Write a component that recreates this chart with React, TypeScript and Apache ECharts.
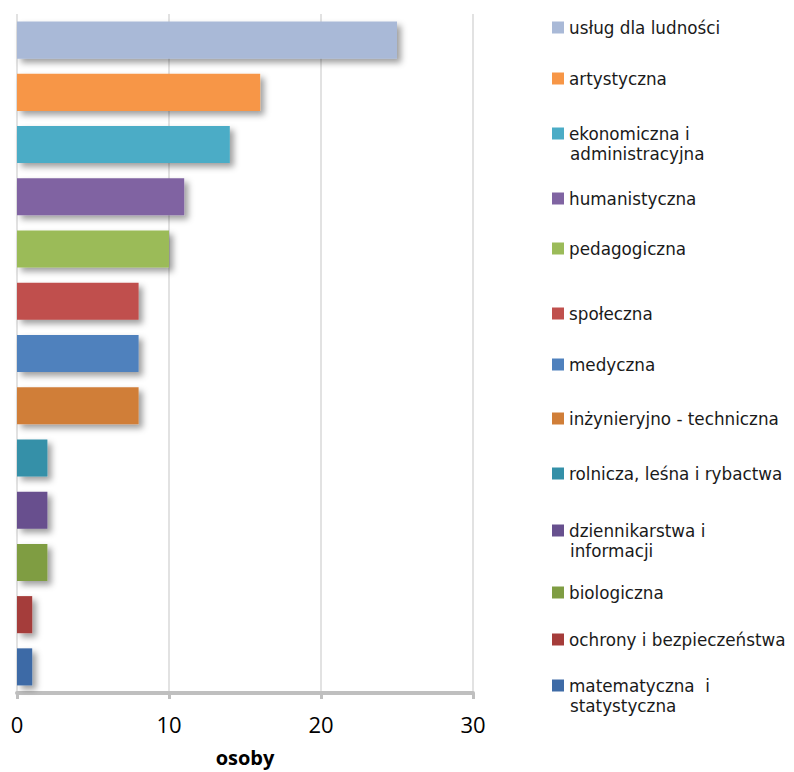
import React, { useEffect, useRef } from "react";
import * as echarts from "echarts";

const categories = [
  "usług dla ludności",
  "artystyczna",
  "ekonomiczna i\nadministracyjna",
  "humanistyczna",
  "pedagogiczna",
  "społeczna",
  "medyczna",
  "inżynieryjno - techniczna",
  "rolnicza, leśna i rybactwa",
  "dziennikarstwa i\ninformacji",
  "biologiczna",
  "ochrony i bezpieczeństwa",
  "matematyczna  i\nstatystyczna",
];
const values = [25, 16, 14, 11, 10, 8, 8, 8, 2, 2, 2, 1, 1];
const colors = [
  "#A9B9D7", "#F79646", "#4BACC6", "#8064A2", "#9BBB59", "#C0504D", "#4F81BD",
  "#D07E38", "#3490A8", "#67508E", "#7F9D43", "#A53C3A", "#3E6BA6",
];
const xTicks = [0, 10, 20, 30];
const xAxisTitle = "osoby";

// legend icon centre positions (layout)
const legendY = [25, 76, 131, 196, 246, 311, 362, 416, 471, 528, 590, 637, 683];

export default function App() {
  const ref = useRef<HTMLDivElement>(null);
  useEffect(() => {
    if (!ref.current) return;
    const chart = echarts.init(ref.current, null, { renderer: "svg" });
    const series = categories.map((name, i) => ({
      type: "bar",
      name,
      stack: "all",
      barCategoryGap: "29%",
      data: categories.map((_, j) => (j === i ? values[i] : null)),
      itemStyle: {
        color: colors[i],
        shadowBlur: 6,
        shadowOffsetX: 4,
        shadowOffsetY: 4,
        shadowColor: "rgba(0,0,0,0.38)",
      },
    }));
    const legends = categories.map((name, i) => ({
      data: [name],
      orient: "vertical",
      left: 552,
      top: legendY[i] - 6,
      padding: 0,
      itemWidth: 12,
      itemHeight: 12,
      itemGap: 0,
      icon: "rect",
      selectedMode: false,
      formatter: (n: string) => n.split("\n")[0],
      textStyle: {
        fontFamily: "DejaVu Sans",
        fontSize: 16.8,
        color: "#1a1a1a",
        lineHeight: 12,
      },
    }));
    const graphics: any[] = [];
    categories.forEach((name, i) => {
      const parts = name.split("\n");
      if (parts.length > 1) {
        graphics.push({
          type: "text",
          left: 570,
          top: legendY[i] + 23 - 9,
          style: {
            text: parts.slice(1).join("\n"),
            font: "16.8px 'DejaVu Sans'",
            fill: "#1a1a1a",
            lineHeight: 18,
          },
        });
      }
    });
    chart.setOption({
      animation: false,
      backgroundColor: "#ffffff",
      grid: { left: 17, right: 321, top: 14, bottom: 77 },
      xAxis: {
        type: "value",
        min: xTicks[0],
        max: xTicks[xTicks.length - 1],
        interval: 10,
        name: xAxisTitle,
        nameLocation: "middle",
        nameGap: 54,
        nameTextStyle: {
          fontFamily: "Open Sans",
          fontWeight: "bold",
          fontSize: 20,
          color: "#000",
        },
        axisLine: { show: true, lineStyle: { color: "#BFBFBF", width: 4 } },
        axisTick: { show: true, length: 6, lineStyle: { color: "#BFBFBF", width: 3 } },
        axisLabel: {
          fontFamily: "Open Sans",
          fontSize: 22,
          color: "#000",
          margin: 20,
        },
        splitLine: { show: true, lineStyle: { color: "#D9D9D9", width: 1.5 } },
      },
      yAxis: {
        type: "category",
        data: categories,
        inverse: true,
        axisLine: { show: false },
        axisTick: { show: false },
        axisLabel: { show: false },
        splitLine: { show: false },
      },
      legend: legends,
      graphic: graphics,
      series,
    });
    return () => chart.dispose();
  }, []);
  return (
    <div
      ref={ref}
      style={{ position: "absolute", left: 0, top: 0, width: 794, height: 772 }}
    />
  );
}
